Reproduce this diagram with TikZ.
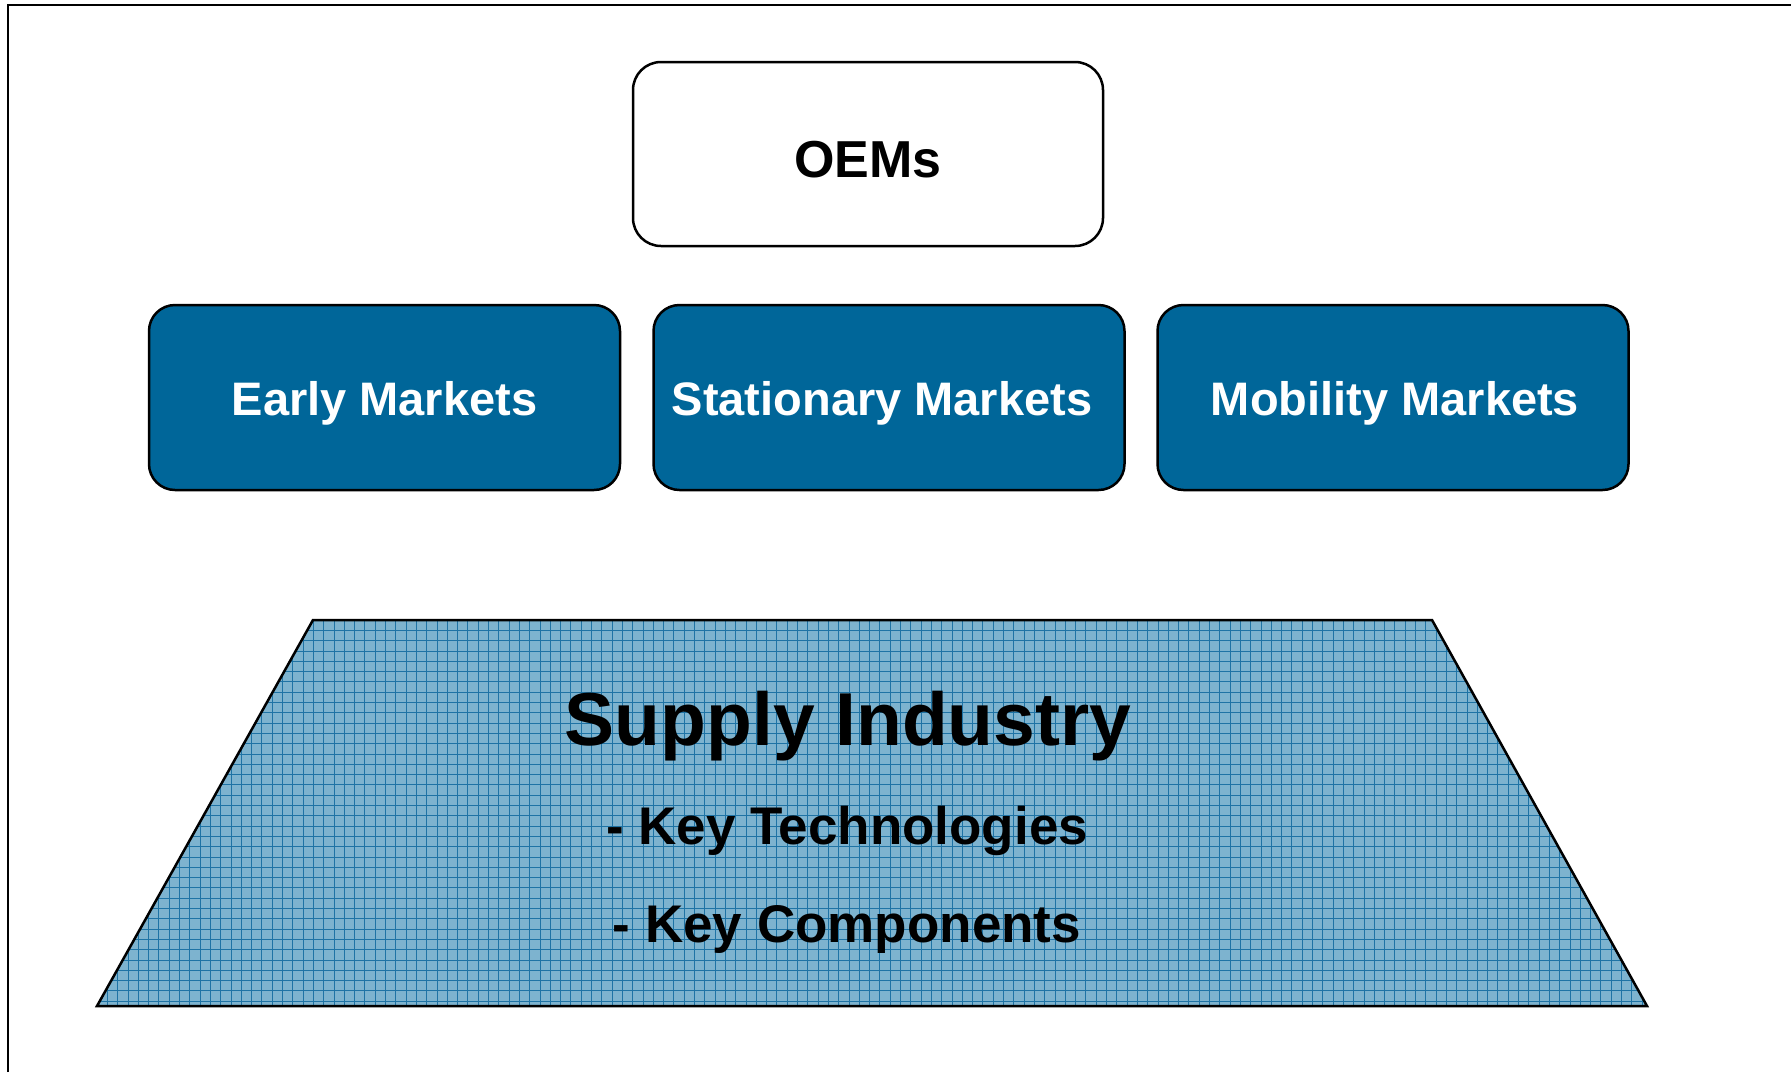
\documentclass[tikz,border=0pt]{standalone}
\usepackage{fontspec}
\setmainfont{Liberation Sans}
\definecolor{boxblue}{RGB}{0,102,153}
\definecolor{trapfill}{RGB}{125,179,207}
\definecolor{gridblue}{RGB}{30,115,165}
\tikzset{
  market/.style={draw=black, line width=2.5pt, fill=boxblue, rounded corners=26pt,
    minimum width=471pt, minimum height=185pt, inner sep=0pt, text=white,
    font=\bfseries\fontsize{47}{50}\selectfont, text height=36pt, text depth=0pt},
  oembox/.style={draw=black, line width=2.5pt, fill=white, rounded corners=28pt,
    minimum width=470pt, minimum height=184pt, inner sep=0pt,
    font=\bfseries\fontsize{52}{56}\selectfont, text height=46pt, text depth=0pt},
  bigtext/.style={anchor=base, inner sep=0pt, font=\bfseries\fontsize{75}{80}\selectfont},
  keytext/.style={anchor=base, inner sep=0pt, font=\bfseries\fontsize{53}{58}\selectfont},
  frameline/.style={line width=2pt, black}
}
\begin{document}
\begin{tikzpicture}[x=1pt, y=-1pt]
\useasboundingbox (0,0) rectangle (1791,1072);
% outer frame (only left and top edges visible)
\draw[frameline] (8,1072) -- (8,5) -- (1791,5);
% OEMs
\node[oembox] (oem) at (868,154) {OEMs};
% markets
\node[market] (early) at (384.5,397.5) {Early Markets};
\node[market] (stat) at (889,397.5) {Stationary Markets\kern14pt};
\node[market] (mob) at (1393,397.5) {\kern4pt Mobility Markets};
% trapezoid
\coordinate (tl) at (313,620);
\coordinate (tr) at (1432,620);
\coordinate (br) at (1647,1006);
\coordinate (bl) at (97,1006);
\fill[trapfill] (tl) -- (tr) -- (br) -- (bl) -- cycle;
\begin{scope}
  \clip (tl) -- (tr) -- (br) -- (bl) -- cycle;
  \foreach \i in {0,...,152} {
    \draw[gridblue, line width=0.8pt] (97+\i*10.3,615) -- (97+\i*10.3,1010);
  }
  \foreach \j in {0,...,38} {
    \draw[gridblue, line width=0.8pt] (90,620+\j*10.3) -- (1650,620+\j*10.3);
  }
\end{scope}
\draw[line width=2.5pt, line join=miter] (tl) -- (tr) -- (br) -- (bl) -- cycle;
\node[bigtext] (supply) at (848,745) {Supply Industry};
\node[keytext] (tech) at (847,844) {- Key Technologies};
\node[keytext] (comp) at (847,942) {- Key Components};
\end{tikzpicture}
\end{document}
